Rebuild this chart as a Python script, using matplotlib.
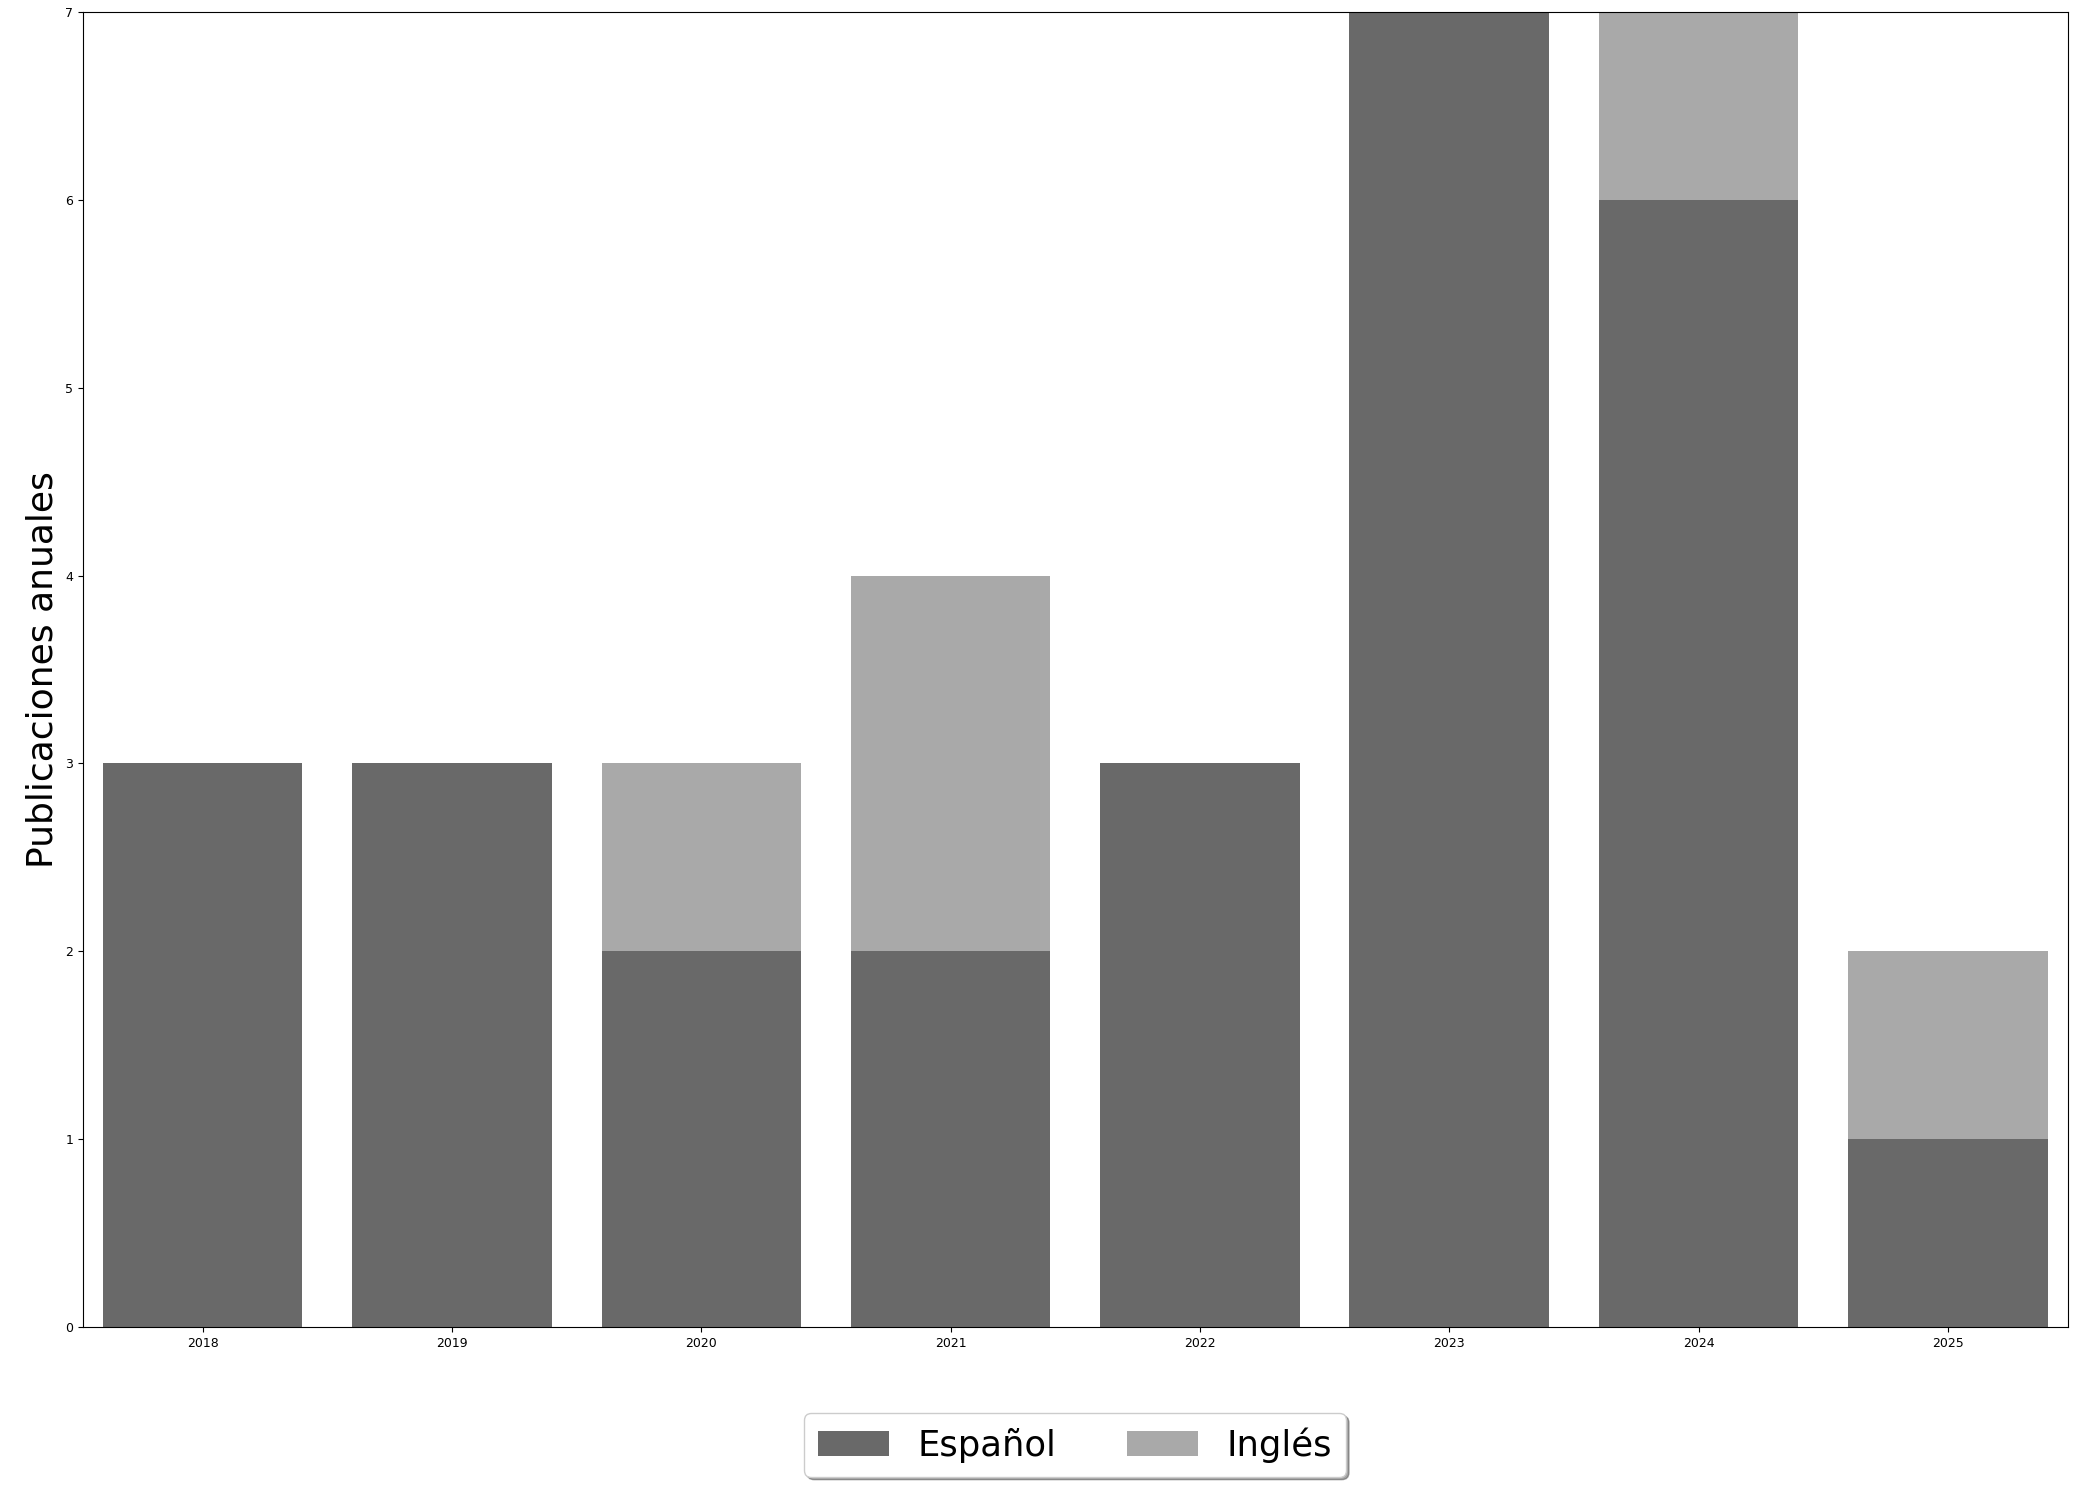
import matplotlib
matplotlib.use("Agg")
import matplotlib.pyplot as plt
import numpy as np

years = ["2018", "2019", "2020", "2021", "2022", "2023", "2024", "2025"]
espanol = [3, 3, 2, 2, 3, 7, 6, 1]
ingles = [0, 0, 1, 2, 0, 0, 1, 1]

x = np.arange(len(years))

fig = plt.figure(figsize=(20.99, 14.97), dpi=100)
ax = fig.add_axes([0.0395, 0.1136, 0.9455, 0.8784])

ax.bar(x, espanol, width=0.8, color="dimgray", label="Español")
ax.bar(x, ingles, width=0.8, bottom=espanol, color="darkgray", label="Inglés")

ax.set_xticks(x)
ax.set_xticklabels(years, fontsize=9)
ax.tick_params(axis="y", labelsize=9)
ax.set_xlim(-0.48, len(years) - 0.52)
ax.set_ylim(0, 7)
ax.set_ylabel("Publicaciones anuales", fontsize=26)

ax.legend(loc="upper center", bbox_to_anchor=(0.5, -0.052), ncol=2,
          fontsize=25.5, fancybox=True, shadow=True)

fig.savefig("out.png", dpi=100)
